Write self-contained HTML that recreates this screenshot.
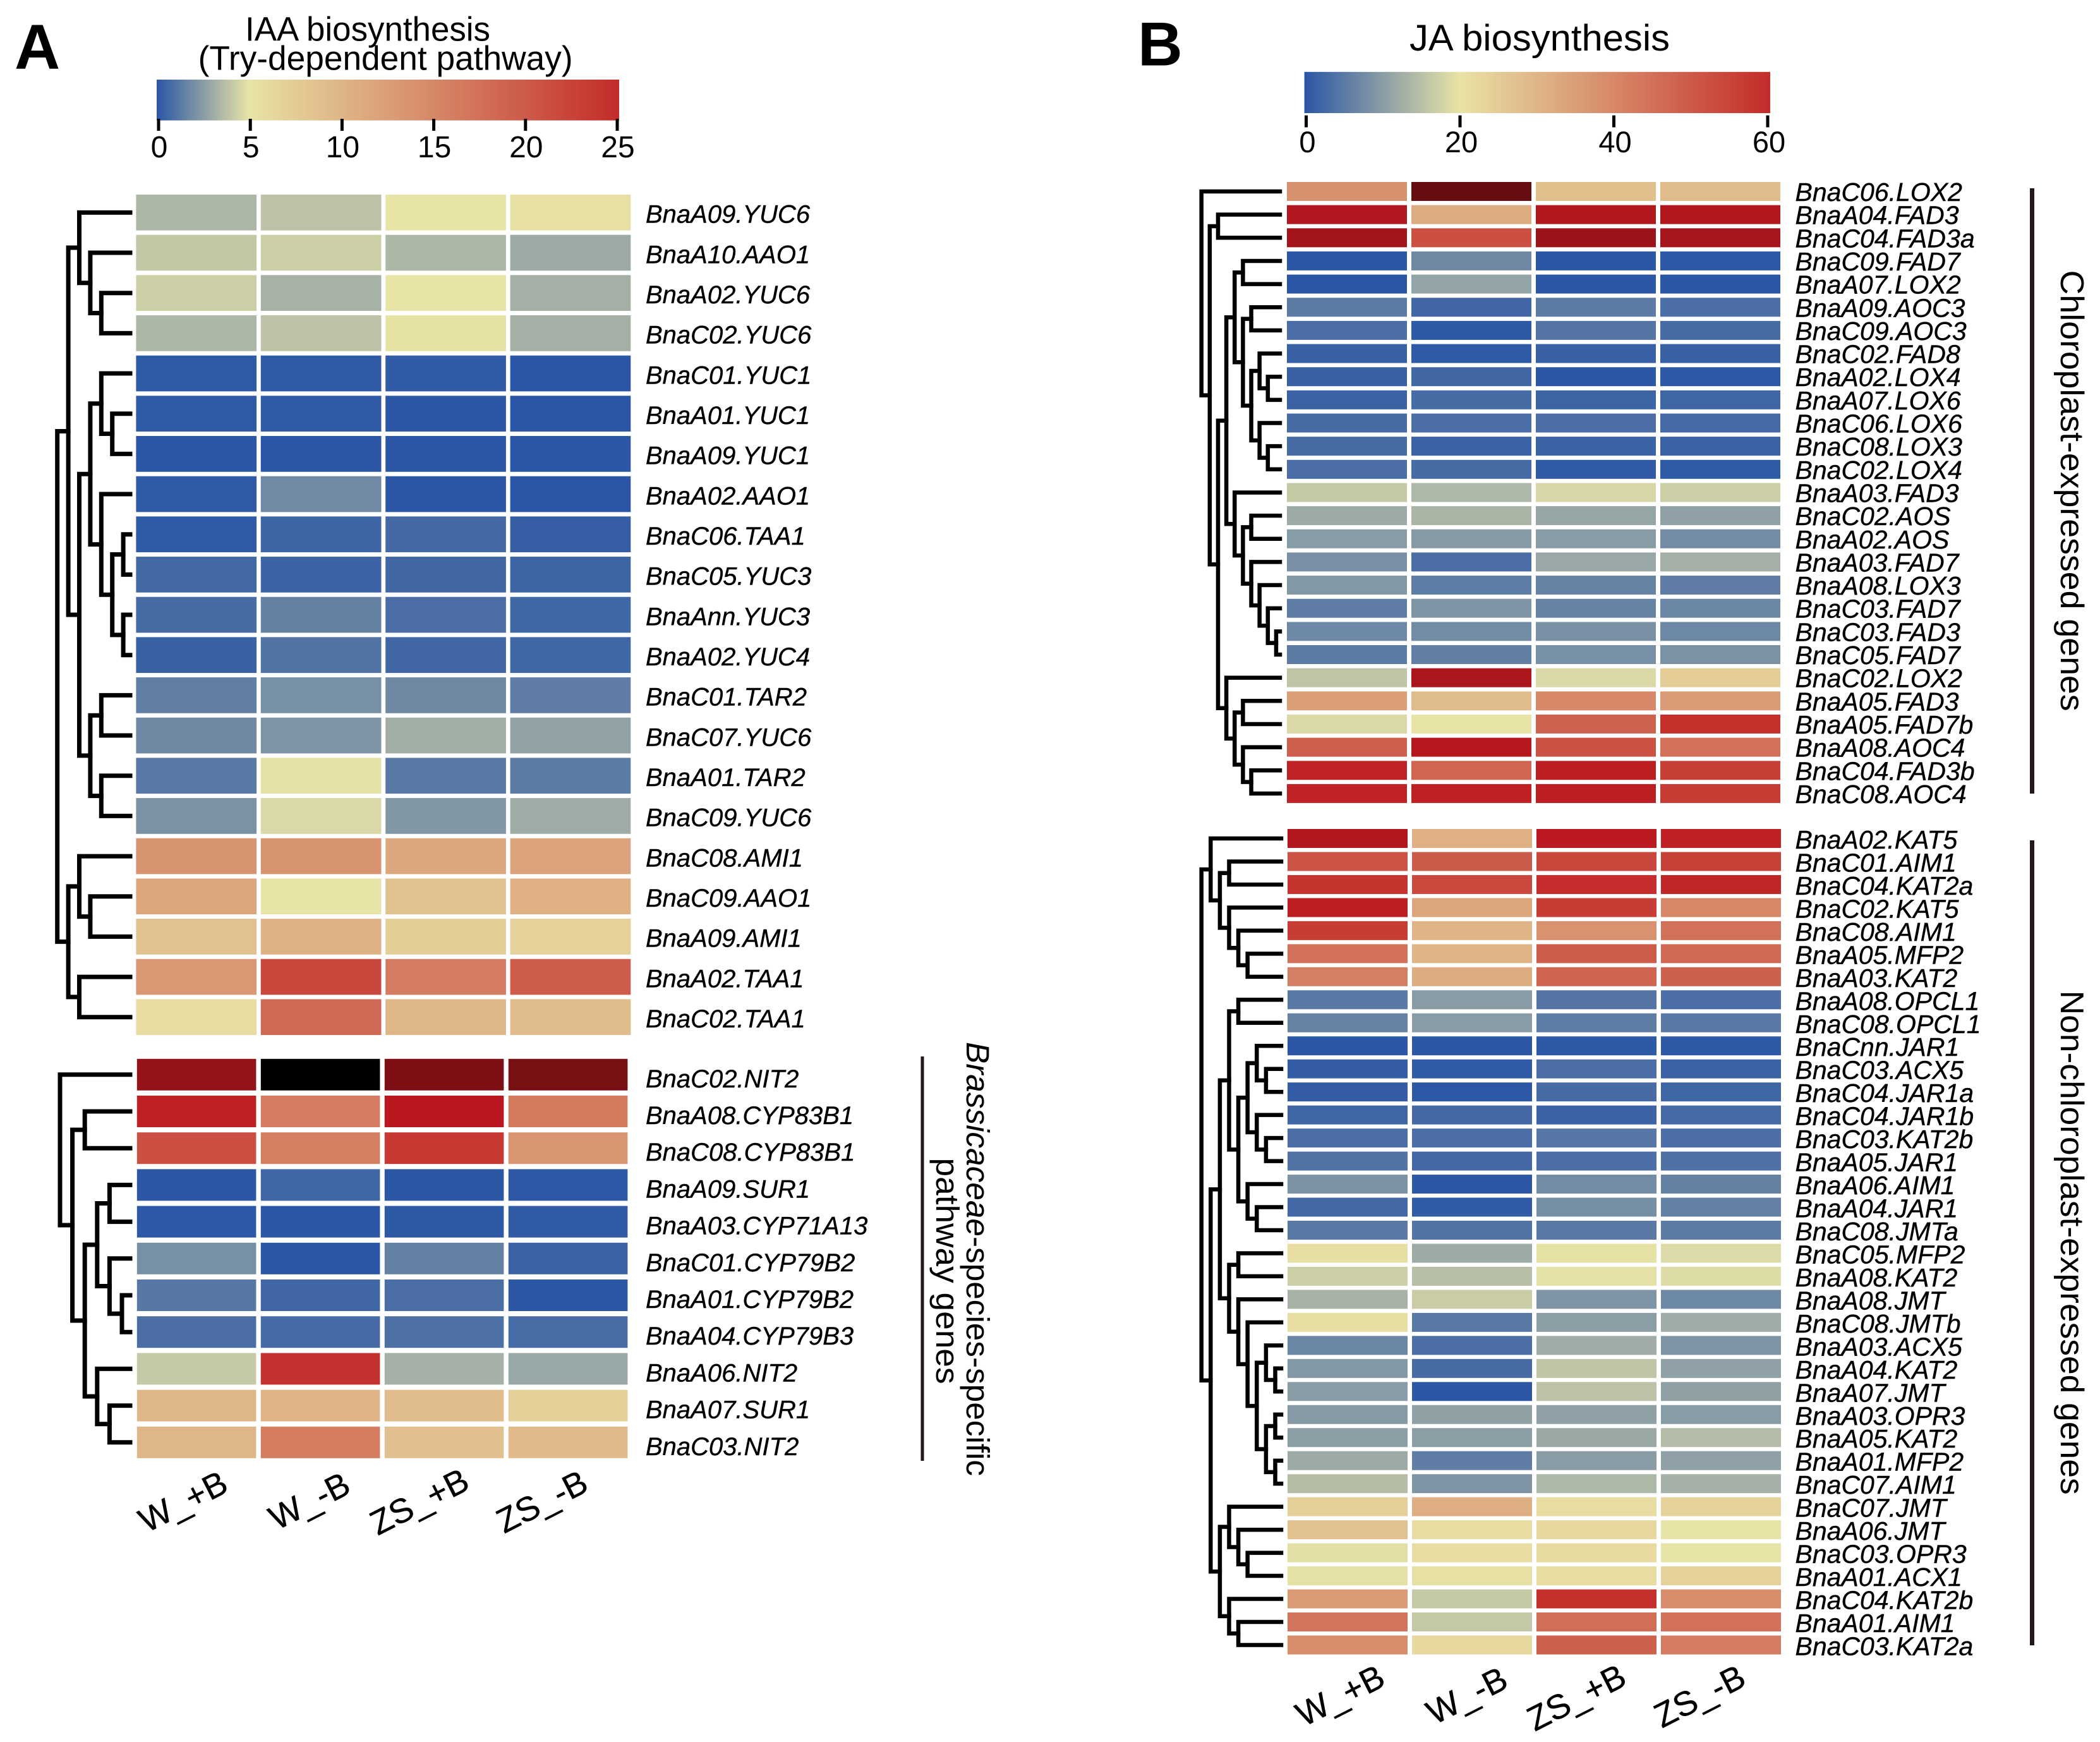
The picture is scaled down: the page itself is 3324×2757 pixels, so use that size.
<!DOCTYPE html>
<html lang="en">
<head>
<meta charset="utf-8">
<title>IAA and JA biosynthesis heatmaps</title>
<style>
html,body{margin:0;padding:0;background:#fff;}
svg{display:block;}
text{font-family:"Liberation Sans",sans-serif;fill:#000;}
.gene{font-style:italic;font-size:40px;stroke:#000;stroke-width:0.4px;}
.geneB{font-style:italic;font-size:41px;stroke:#000;stroke-width:0.4px;}
.col{font-size:54px;stroke:#000;stroke-width:0.4px;}
</style>
</head>
<body>
<svg id="fig" xmlns="http://www.w3.org/2000/svg" width="3324" height="2757" viewBox="0 0 3324 2757">
  <defs>
    <linearGradient id="gradA"></linearGradient>
    <linearGradient id="gradB"></linearGradient>
  </defs>
  <rect x="0" y="0" width="3324" height="2757" fill="#fff"/>

  <text x="23" y="108.5" font-size="100" font-weight="bold">A</text>
  <text x="1801" y="103.6" font-size="98" font-weight="bold">B</text>

  <text x="388" y="64.7" font-size="54" textLength="388" lengthAdjust="spacingAndGlyphs">IAA biosynthesis</text>
  <text x="313.6" y="110.7" font-size="54" textLength="593" lengthAdjust="spacingAndGlyphs">(Try-dependent pathway)</text>
  <text x="2231" y="80" font-size="58" textLength="412" lengthAdjust="spacingAndGlyphs">JA biosynthesis</text>

  <rect x="248" y="126" width="732" height="64.6" fill="url(#gradA)"/>
  <rect x="2064.6" y="113.8" width="737.4" height="65.2" fill="url(#gradB)"/>
  <g id="cbarA"></g>
  <g id="cbarB"></g>

  <g id="heatAU"></g>
  <g id="heatAL"></g>
  <g id="heatBU"></g>
  <g id="heatBL"></g>

  <g id="dendAU" fill="none" stroke="#000" stroke-width="7" stroke-linecap="square"></g>
  <g id="dendAL" fill="none" stroke="#000" stroke-width="7" stroke-linecap="square"></g>
  <g id="dendBU" fill="none" stroke="#000" stroke-width="6.5" stroke-linecap="square"></g>
  <g id="dendBL" fill="none" stroke="#000" stroke-width="6.5" stroke-linecap="square"></g>

  <g>
    <text class="col" text-anchor="middle" transform="translate(289.5 2376) rotate(-27) translate(0 19)">W_+B</text>
    <text class="col" text-anchor="middle" transform="translate(489.5 2375) rotate(-27) translate(0 19)">W_-B</text>
    <text class="col" text-anchor="middle" transform="translate(663.5 2376) rotate(-27) translate(0 19)">ZS_+B</text>
    <text class="col" text-anchor="middle" transform="translate(857.5 2376) rotate(-27) translate(0 19)">ZS_-B</text>
  </g>
  <g>
    <text class="col" text-anchor="middle" transform="translate(2121 2683) rotate(-27) translate(0 19)">W_+B</text>
    <text class="col" text-anchor="middle" transform="translate(2321.6 2683) rotate(-27) translate(0 19)">W_-B</text>
    <text class="col" text-anchor="middle" transform="translate(2495 2686) rotate(-27) translate(0 19)">ZS_+B</text>
    <text class="col" text-anchor="middle" transform="translate(2690 2684) rotate(-27) translate(0 19)">ZS_-B</text>
  </g>

  <rect x="1457.5" y="1672" width="5" height="640" fill="#231815"/>
  <text font-size="51.3" transform="translate(1530 1649) rotate(90)"><tspan font-style="italic">Brassicaceae</tspan>-species-specific</text>
  <text font-size="51.3" transform="translate(1482 1832.5) rotate(90)" textLength="358" lengthAdjust="spacingAndGlyphs">pathway genes</text>

  <rect x="3213" y="298" width="7" height="958" fill="#231815"/>
  <rect x="3213" y="1330" width="7" height="1274" fill="#231815"/>
  <text font-size="52" transform="translate(3262 427.6) rotate(90)" textLength="698" lengthAdjust="spacingAndGlyphs">Chloroplast-expressed genes</text>
  <text font-size="52" transform="translate(3262 1567.6) rotate(90)" textLength="798" lengthAdjust="spacingAndGlyphs">Non-chloroplast-expressed genes</text>
</svg>

<script>
const ticksA = [0, 5, 10, 15, 20, 25];
const ticksB = [0, 20, 40, 60];

const genesAU = ["BnaA09.YUC6","BnaA10.AAO1","BnaA02.YUC6","BnaC02.YUC6","BnaC01.YUC1","BnaA01.YUC1","BnaA09.YUC1","BnaA02.AAO1","BnaC06.TAA1","BnaC05.YUC3","BnaAnn.YUC3","BnaA02.YUC4","BnaC01.TAR2","BnaC07.YUC6","BnaA01.TAR2","BnaC09.YUC6","BnaC08.AMI1","BnaC09.AAO1","BnaA09.AMI1","BnaA02.TAA1","BnaC02.TAA1"];
const valuesAU = [
[3.45,3.85,5.0,5.35],[4.0,4.25,3.45,3.0],[4.3,3.25,5.0,3.2],[3.45,3.85,4.95,3.2],
[0.13,0.13,0.18,0],[0.13,0.13,0.03,0],[0.02,0,0,0.03],[0.13,1.84,0,0],
[0.13,0.53,0.68,0.29],[0.66,0.47,0.6,0.5],[0.74,1.55,0.84,0.55],[0.4,1.05,0.58,0.55],
[1.45,2.05,1.82,1.4],[1.82,2.2,3.13,2.68],[1.2,4.9,1.25,1.32],[2.13,4.6,2.3,3.05],
[13.7,13.7,11.5,12],[11.6,5,8.7,10.5],[8.7,10.3,7.3,6.8],[13.3,22,16.2,19.6],[5.8,18.4,9.9,9.3]
];
const treeAU = [[[0,[0,[0,0]]],[[[0,[0,0]],[0,[[0,0],[0,0]]]],[[0,0],[0,0]]]],[[0,[0,0]],[0,0]]];

const genesAL = ["BnaC02.NIT2","BnaA08.CYP83B1","BnaC08.CYP83B1","BnaA09.SUR1","BnaA03.CYP71A13","BnaC01.CYP79B2","BnaA01.CYP79B2","BnaA04.CYP79B3","BnaA06.NIT2","BnaA07.SUR1","BnaC03.NIT2"];
const valuesAL = [
[30.2,45,32.4,32.9],[25.8,16.2,26.5,16.4],[21,15.9,23.6,13.5],
[0.05,0.55,0.05,0.08],[0.08,0.05,0.1,0.18],[2.05,0.05,1.5,0.42],
[1.18,0.58,0.87,0.05],[0.87,0.7,0.93,0.78],[4.07,24.3,3.23,2.9],
[9.9,10.1,9.2,7.1],[9.9,16.1,8.9,9.5]
];
const treeAL = [0,[[0,0],[[[0,0],[0,[0,0]]],[0,[0,0]]]]];

const genesBU = ["BnaC06.LOX2","BnaA04.FAD3","BnaC04.FAD3a","BnaC09.FAD7","BnaA07.LOX2","BnaA09.AOC3","BnaC09.AOC3","BnaC02.FAD8","BnaA02.LOX4","BnaA07.LOX6","BnaC06.LOX6","BnaC08.LOX3","BnaC02.LOX4","BnaA03.FAD3","BnaC02.AOS","BnaA02.AOS","BnaA03.FAD7","BnaA08.LOX3","BnaC03.FAD7","BnaC03.FAD3","BnaC05.FAD7","BnaC02.LOX2","BnaA05.FAD3","BnaA05.FAD7b","BnaA08.AOC4","BnaC04.FAD3b","BnaC08.AOC4"];
const valuesBU = [
[37.8,84.3,27.6,28.5],[65.8,31.7,65.3,65.3],[69.1,52.2,70.9,68.3],
[0.1,7.3,0.2,0.3],[0,11,0.1,0.1],[5.2,2.3,5.4,3.6],[3.4,0.4,4.3,3],
[1.4,0.5,1.4,1.6],[1.4,2.4,0.2,0.3],[1.7,3,2,2.2],[3,3.4,3.4,2.9],
[3,1.7,1.8,1.7],[3.4,3,0.6,0.5],[16.3,13.9,18.2,17],[12,13.5,11.4,10.6],
[9.9,9.7,9.9,7.6],[8.4,3.4,11.7,12.8],[9.3,5.5,6.3,5.7],[5.7,8.9,6.3,6.9],
[7.2,7.7,8.4,7.1],[5.4,5.8,8.2,8.5],[15.6,66.8,18.5,25],[34.8,28.5,39.8,35.4],
[18.6,20,48,59],[48.7,64.3,51.5,45],[61.5,47.2,62.5,55.6],[61.5,62,62.5,56.5]
];
const treeBU = [0,[[0,0],[[[[0,0],[[0,0],[[0,[0,0]],[0,[0,0]]]]],[0,[[0,0],[0,[0,[0,[0,0]]]]]]],[0,[[0,0],[0,[0,0]]]]]]];

const genesBL = ["BnaA02.KAT5","BnaC01.AIM1","BnaC04.KAT2a","BnaC02.KAT5","BnaC08.AIM1","BnaA05.MFP2","BnaA03.KAT2","BnaA08.OPCL1","BnaC08.OPCL1","BnaCnn.JAR1","BnaC03.ACX5","BnaC04.JAR1a","BnaC04.JAR1b","BnaC03.KAT2b","BnaA05.JAR1","BnaA06.AIM1","BnaA04.JAR1","BnaC08.JMTa","BnaC05.MFP2","BnaA08.KAT2","BnaA08.JMT","BnaC08.JMTb","BnaA03.ACX5","BnaA04.KAT2","BnaA07.JMT","BnaA03.OPR3","BnaA05.KAT2","BnaA01.MFP2","BnaC07.AIM1","BnaC07.JMT","BnaA06.JMT","BnaC03.OPR3","BnaA01.ACX1","BnaC04.KAT2b","BnaA01.AIM1","BnaC03.KAT2a"];
const valuesBL = [
[65,31,63.2,62],[51,49.6,54,55],[58,53.5,59.3,61],[62.5,33.3,56.3,40],
[56.3,30,37.6,44.8],[44.8,30,49.3,46.7],[41.7,32,47.6,48.5],
[5,9.9,4.3,3.4],[6.3,10.1,5.5,5],[0.2,0.1,0.4,0.4],[1,0.5,3.5,1.7],
[0.9,0.3,3,2.2],[2.2,2.7,1.9,2.9],[3.4,3.4,4.6,3.4],[4.2,2.7,3.6,3.9],
[8.6,0.1,7.7,6.2],[2.6,0.7,8.1,6.1],[5,4.2,5,5.3],
[21,12,19.8,18.7],[17.2,14.7,19.6,18.8],[13,16.8,8.9,7.2],[21,4.8,10.2,12.4],
[6.8,3.5,12.4,8.9],[9.3,3,15.8,10.6],[10.1,0.2,15.3,10.7],[9.7,10.7,10.6,9.9],
[10.3,10.2,11.8,14.4],[12,5.7,10.1,10.6],[14.6,8.8,13.9,12.9],
[24.3,31.5,21.5,23.7],[27.2,21.5,22.4,20],[19.4,21.5,22,20],[19.6,20.6,21.5,23.7],
[35.9,16.3,59,39],[44,16.2,45.4,45],[39,22.4,48.5,42.4]
];
const treeBL = [[0,[[0,0],[0,[0,[0,0]]]]],[[[[0,0],[[[0,[0,0]],[0,[0,0]]],[0,[0,0]]]],[[0,0],[0,[0,[[0,[0,0]],[[0,0],[0,0]]]]]]],[[0,[0,[0,0]]],[0,[0,0]]]]];

const SVGNS = "http://www.w3.org/2000/svg";
const BLUE = [42,86,165], YELLOW = [232,227,166], RED = [196,43,42], DEEP = [185,24,31], BLACK = [0,0,0];

function mix(a, b, t) {
  return [0,1,2].map(function (i) { return Math.round(a[i] + (b[i] - a[i]) * t); });
}
function colorScale(mid, max, black) {
  const deep = max * 1.06;
  return function (v) {
    let c;
    if (v <= mid) c = mix(BLUE, YELLOW, Math.max(0, v) / mid);
    else if (v <= max) c = mix(YELLOW, RED, (v - mid) / (max - mid));
    else if (v <= deep) c = mix(RED, DEEP, (v - max) / (deep - max));
    else c = mix(DEEP, BLACK, Math.min(1, (v - deep) / (black - deep)));
    return "rgb(" + c.join(",") + ")";
  };
}
const colorA = colorScale(5, 25, 45);
const colorB = colorScale(20, 60, 110);

function fillGradient(id, mid, max) {
  const grad = document.getElementById(id);
  const stops = [[0, BLUE], [mid / max, YELLOW], [1, RED]];
  stops.forEach(function (s) {
    const st = document.createElementNS(SVGNS, "stop");
    st.setAttribute("offset", s[0]);
    st.setAttribute("stop-color", "rgb(" + s[1].join(",") + ")");
    grad.appendChild(st);
  });
}

function drawAxis(groupId, ticks, max, x0, x1, tickTop, tickBottom, labelBaseline, fontSize, labelShift) {
  const g = document.getElementById(groupId);
  const xScale = function (v) { return x0 + (v / max) * (x1 - x0); };
  ticks.forEach(function (t) {
    const line = document.createElementNS(SVGNS, "line");
    
    
    line.setAttribute("x1", xScale(t));
    line.setAttribute("x2", xScale(t));
    line.setAttribute("y1", tickTop);
    line.setAttribute("y2", tickBottom);
    line.setAttribute("stroke", "#000");
    line.setAttribute("stroke-width", "5");
    g.appendChild(line);
    const label = document.createElementNS(SVGNS, "text");
    
    
    label.setAttribute("x", xScale(t) + labelShift);
    label.setAttribute("y", labelBaseline);
    label.setAttribute("text-anchor", "middle");
    label.setAttribute("font-size", fontSize);
    label.textContent = String(t);
    g.appendChild(label);
  });
}

function drawHeat(groupId, values, genes, color, geo) {
  const g = document.getElementById(groupId);
  values.forEach(function (row, r) {
    row.forEach(function (v, c) {
      const rect = document.createElementNS(SVGNS, "rect");
      
      
      rect.setAttribute("x", geo.x0 + c * geo.px);
      rect.setAttribute("y", geo.y0 + r * geo.py);
      rect.setAttribute("width", geo.w);
      rect.setAttribute("height", geo.h);
      rect.setAttribute("fill", color(v));
      g.appendChild(rect);
    });
    const label = document.createElementNS(SVGNS, "text");
    
    
    label.setAttribute("class", geo.cls);
    label.setAttribute("x", geo.labelX);
    label.setAttribute("y", geo.y0 + r * geo.py + geo.h / 2 + geo.base);
    label.textContent = genes[r];
    g.appendChild(label);
  });
}

function drawTree(groupId, tree, geo) {
  const g = document.getElementById(groupId);
  let leaf = 0;
  const depthX = function (d) { return geo.x0 + d * geo.step; };
  const leafY = function (i) { return geo.y0 + i * geo.py + geo.h / 2; };
  function walk(node, depth) {
    if (!Array.isArray(node)) {
      return { x: geo.leafX, y: leafY(leaf++) };
    }
    const a = walk(node[0], depth + 1);
    const b = walk(node[1], depth + 1);
    const x = depthX(depth);
    const path = document.createElementNS(SVGNS, "path");
    
    
    path.setAttribute("d", "M" + a.x + " " + a.y + "H" + x + "V" + b.y + "H" + b.x);
    g.appendChild(path);
    return { x: x, y: (a.y + b.y) / 2 };
  }
  walk(tree, 0);
}

fillGradient("gradA", 5, 25);
fillGradient("gradB", 20, 60);
drawAxis("cbarA", ticksA, 25, 251, 977, 188, 207, 249, 48, 1);
drawAxis("cbarB", ticksB, 60, 2067.5, 2798, 182.6, 201.5, 240.8, 47, 2);

const geoAU = { x0: 215.4, px: 197.4, w: 190.7, y0: 308, py: 63.67, h: 56.7, labelX: 1022, base: 16.3, cls: "gene" };
const geoAL = { x0: 216.8, px: 196, w: 188.6, y0: 1675.8, py: 58.2, h: 50, labelX: 1022, base: 20, cls: "gene" };
const geoBU = { x0: 2037, px: 197, w: 190, y0: 288, py: 36.65, h: 30, labelX: 2841.5, base: 15, cls: "geneB" };
const geoBL = { x0: 2038, px: 197, w: 190, y0: 1312, py: 36.47, h: 30, labelX: 2841.5, base: 16, cls: "geneB" };

drawHeat("heatAU", valuesAU, genesAU, colorA, geoAU);
drawHeat("heatAL", valuesAL, genesAL, colorA, geoAL);
drawHeat("heatBU", valuesBU, genesBU, colorB, geoBU);
drawHeat("heatBL", valuesBL, genesBL, colorB, geoBL);

drawTree("dendAU", treeAU, { x0: 90.7, step: 17.4, leafX: 206, y0: geoAU.y0, py: geoAU.py, h: geoAU.h });
drawTree("dendAL", treeAL, { x0: 95, step: 19.6, leafX: 206, y0: geoAL.y0, py: geoAL.py, h: geoAL.h });
drawTree("dendBU", treeBU, { x0: 1901.7, step: 13.14, leafX: 2026, y0: geoBU.y0, py: geoBU.py, h: geoBU.h });
drawTree("dendBL", treeBL, { x0: 1901.7, step: 14.6, leafX: 2028, y0: geoBL.y0, py: geoBL.py, h: geoBL.h });
</script>
</body>
</html>
